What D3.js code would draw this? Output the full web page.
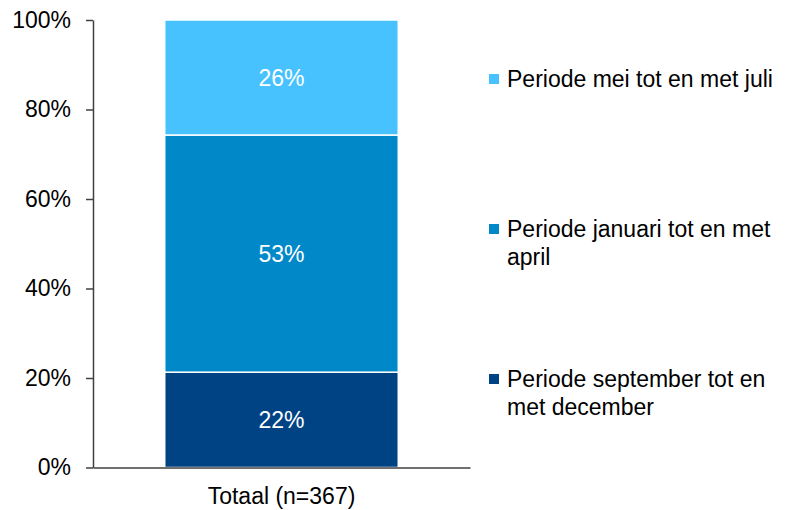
<!DOCTYPE html>
<meta charset="utf-8">
<style>
html, body { margin: 0; padding: 0; background: #fff; }
svg { display: block; font-family: "Liberation Sans", Arial, sans-serif; }
</style>
<svg width="788" height="510"></svg>
<script src="https://d3js.org/d3.v7.min.js"></script>
<script>
// data
var categories = ["Totaal (n=367)"];
var seriesNames = ["Periode september tot en met december", "Periode januari tot en met april", "Periode mei tot en met juli"];
var seriesValues = [21.3, 53.0, 25.7];
var seriesLabels = ["22%", "53%", "26%"];
var colors = ["#004385", "#0088c8", "#47c2ff"];
var yTicks = [0, 20, 40, 60, 80, 100];

var fontSize = "23px";

var svg = d3.select("svg"),
    margin = {top: 20, right: 318, bottom: 42.5, left: 93},
    width = 788 - margin.left - margin.right,
    height = 510 - margin.top - margin.bottom,
    g = svg.append("g").attr("transform", "translate(" + margin.left + "," + margin.top + ")");

var x = d3.scaleBand().domain(categories).range([0, width]).padding(0.235);
var y = d3.scaleLinear().domain([0, 100]).range([height, 0]);

// stack the segments
var rows = [];
var acc = 0;
seriesValues.forEach(function(v, i) {
  rows.push({i: i, y0: acc, y1: acc + v, label: seriesLabels[i]});
  acc += v;
});

g.selectAll("rect.seg")
  .data(rows)
  .enter().append("rect")
    .attr("class", "seg")
    .attr("x", x(categories[0]))
    .attr("width", x.bandwidth())
    .attr("y", function(d) { return y(d.y1); })
    .attr("height", function(d) { return y(d.y0) - y(d.y1); })
    .attr("fill", function(d) { return colors[d.i]; })
    .attr("stroke", "#fff")
    .attr("stroke-width", 1.5);

g.selectAll("text.val")
  .data(rows)
  .enter().append("text")
    .attr("class", "val")
    .attr("x", x(categories[0]) + x.bandwidth() / 2)
    .attr("y", function(d) { return y((d.y0 + d.y1) / 2); })
    .attr("dy", "0.36em")
    .attr("text-anchor", "middle")
    .attr("fill", "#fff")
    .style("font-size", fontSize)
    .text(function(d) { return d.label; });

// y axis
var yAxis = g.append("g")
  .call(d3.axisLeft(y).tickValues(yTicks).tickSize(7).tickSizeOuter(0).tickPadding(15)
    .tickFormat(function(d) { return d + "%"; }));
yAxis.select(".domain").attr("stroke", "#404040").attr("stroke-width", 1.5);
yAxis.selectAll(".tick line").attr("stroke", "#404040").attr("stroke-width", 1.5);
yAxis.selectAll(".tick text").attr("fill", "#000").style("font-size", fontSize).attr("font-family", null);

// x axis
var xAxis = g.append("g")
  .attr("transform", "translate(0," + height + ")")
  .call(d3.axisBottom(x).tickSize(0).tickPadding(20));
xAxis.select(".domain").attr("stroke", "#404040").attr("stroke-width", 1.5);
xAxis.selectAll(".tick text").attr("fill", "#000").style("font-size", fontSize).attr("font-family", null);

// legend, top entry first
var legendBase = [67, 217, 367];
var legend = svg.append("g");
[2, 1, 0].forEach(function(si, k) {
  var item = legend.append("g").attr("transform", "translate(489," + legendBase[k] + ")");
  item.append("rect").attr("x", 0).attr("y", 7).attr("width", 10).attr("height", 10).attr("fill", colors[si]);
  var t = item.append("text").attr("x", 18).attr("y", 20).style("font-size", fontSize).attr("fill", "#000");
  var words = seriesNames[si].split(" "), line = [];
  var ts = t.append("tspan").attr("x", 18).attr("dy", 0);
  words.forEach(function(w) {
    line.push(w);
    ts.text(line.join(" "));
    if (ts.node().getComputedTextLength() > 280 && line.length > 1) {
      line.pop();
      ts.text(line.join(" "));
      line = [w];
      ts = t.append("tspan").attr("x", 18).attr("dy", 28).text(w);
    }
  });
});
</script>
